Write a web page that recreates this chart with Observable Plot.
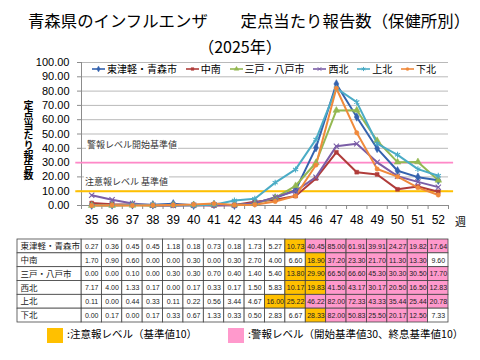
<!DOCTYPE html>
<html><head><meta charset="utf-8">
<script src="https://cdn.jsdelivr.net/npm/d3@7"></script>
<script src="https://cdn.jsdelivr.net/npm/@observablehq/plot@0.6"></script>
<style>
body{margin:0;background:#fff;font-family:"Noto Sans CJK JP",sans-serif;color:#000;}
#wrap{position:relative;width:480px;height:360px;overflow:hidden;background:#fff;}
.abs{position:absolute;}
.title{left:0;width:480px;text-align:center;font-size:16px;line-height:26px;white-space:pre;}
.ann{font-size:9px;color:#333;background:#fff;padding:2px 1px;line-height:12px;white-space:pre;}
.leg{display:flex;justify-content:space-between;align-items:center;font-size:10px;line-height:14px;}
.leg span{display:flex;align-items:center;white-space:pre;}
.foot{font-size:10.5px;line-height:16px;white-space:pre;}
</style></head><body><div id="wrap"></div>
<script>
// ---- data ----
const weeks = [35,36,37,38,39,40,41,42,43,44,45,46,47,48,49,50,51,52];
const series = ["東津軽・青森市","中南","三戸・八戸市","西北","上北","下北"];
const higashiTsugaru = [0.27,0.36,0.45,0.45,1.18,0.18,0.73,0.18,1.73,5.27,10.73,40.45,85.00,61.91,39.91,24.27,19.82,17.64];
const chunan        = [1.70,0.90,0.60,0.00,0.00,0.30,0.00,0.30,2.70,4.00,6.60,18.90,37.20,23.30,21.70,11.30,13.30,9.60];
const sannohe       = [0.00,0.00,0.10,0.00,0.30,0.30,0.70,0.40,1.40,5.40,13.80,29.90,66.50,66.60,45.30,30.30,30.50,17.70];
const seihoku       = [7.17,4.00,1.33,0.17,0.00,0.17,0.33,0.17,1.50,5.83,10.17,19.83,41.50,43.17,30.17,20.50,16.50,12.83];
const kamikita      = [0.11,0.00,0.44,0.33,0.11,0.22,0.56,3.44,4.67,16.00,25.22,46.22,82.00,72.33,43.33,35.44,25.44,20.78];
const shimokita     = [0.00,0.17,0.00,0.17,0.33,0.67,1.33,0.33,0.50,2.83,6.67,28.33,82.00,50.83,25.50,20.17,12.50,7.33];
const valuesList = [higashiTsugaru, chunan, sannohe, seihoku, kamikita, shimokita];
const yTicks = [0,10,20,30,40,50,60,70,80,90,100];
const attentionLevel = 10, alarmStart = 30, alarmEnd = 10;

// ---- styles ----
const colors  = ["#3462AE","#B03C3A","#94B852","#7B5EA7","#4BACC6","#F08A3C"];
const symbols = ["diamond","square","triangle","times","asterisk","circle"];
const filled  = [true,true,true,false,false,true];
const radius  = [2.6,2.2,2.5,2.5,2.8,2.2];
const cATT = "#FFC000", cALM = "#FF99CC";

const rows = series.flatMap((s,i)=>weeks.map((w,j)=>({series:s, row:i, week:w, value:valuesList[i][j]})));
// warning level classification
series.forEach((s,i)=>{
  let alarm=false;
  rows.filter(r=>r.row===i).forEach(r=>{
    if(!alarm && r.value>=alarmStart) alarm=true;
    else if(alarm && r.value<alarmEnd) alarm=false;
    r.level = alarm ? "alarm" : (r.value>=attentionLevel ? "attention" : "none");
  });
});

const wrap = document.getElementById("wrap");
function add(html, cls, css){const d=document.createElement("div");d.className="abs "+(cls||"");d.innerHTML=html;Object.assign(d.style,css||{});wrap.appendChild(d);return d;}

add("青森県のインフルエンザ　　定点当たり報告数（保健所別）","title",{top:"7px",left:"9px",fontSize:"16.4px"});
add("（2025年）","title",{top:"33px"});

// ---- chart ----
const marksLS = [];
series.forEach((s,i)=>{
  const d = rows.filter(r=>r.row===i);
  marksLS.push(Plot.line(d,{x:"week",y:"value",stroke:colors[i],strokeWidth:2}));
});
series.forEach((s,i)=>{
  const d = rows.filter(r=>r.row===i);
  marksLS.push(Plot.dot(d,{x:"week",y:"value",symbol:()=>symbols[i],r:radius[i],
    fill: filled[i]?colors[i]:"none", stroke:colors[i], strokeWidth: filled[i]?0.5:1.1}));
});

const chart = Plot.plot({
  width:480, height:180, marginTop:8, marginBottom:29, marginLeft:81, marginRight:32,
  style:{fontFamily:"Liberation Sans, Noto Sans CJK JP, sans-serif", fontSize:"11px", color:"#000", background:"transparent", overflow:"visible"},
  x:{domain:[34.5,52.5], axis:null},
  y:{domain:[0,100], axis:null},
  symbol:{type:"identity"},
  marks:[
    Plot.ruleY(yTicks.filter(t=>t>0),{stroke:"#b9b9b9",strokeWidth:1}),
    Plot.axisY({ticks:yTicks, tickFormat:d=>d.toFixed(2), tickSize:4, tickPadding:8, stroke:"#8c8c8c", fill:"#000", label:null}),
    Plot.axisX({ticks:d3.range(34.5,52.6,1), tickSize:4, tickFormat:()=>"", stroke:"#8c8c8c", label:null}),
    Plot.axisX({ticks:weeks, tickSize:0, tickPadding:10, fill:"#000", label:null, fontSize:12}),
    Plot.ruleY([0],{stroke:"#8c8c8c"}),
    Plot.ruleX([34.5],{stroke:"#8c8c8c"}),
    Plot.ruleY([alarmStart],{x1:34.22,x2:52.75,stroke:"#FF88C8",strokeWidth:1.8}),
    Plot.ruleY([attentionLevel],{x1:34.22,x2:52.75,stroke:cATT,strokeWidth:2}),
    ...marksLS
  ]
});
chart.style.position="absolute"; chart.style.left="0px"; chart.style.top="54px";
wrap.appendChild(chart);

add("週","",{left:"455px",top:"213px",fontSize:"11px",lineHeight:"16px"});
add("警報レベル開始基準値","ann",{left:"86px",top:"137px"});
add("注意報レベル 基準値","ann",{left:"84px",top:"174px"});

// y-axis title
add("定点当たり報告数","",{left:"22px",top:"100px",writingMode:"vertical-rl",textOrientation:"upright",fontSize:"10px",fontWeight:"bold",lineHeight:"12px"});

// legend
function symPath(name, r){
  const m={diamond:d3.symbolDiamond,square:d3.symbolSquare,triangle:d3.symbolTriangle,times:d3.symbolTimes,asterisk:d3.symbolAsterisk,circle:d3.symbolCircle};
  return d3.symbol(m[name], Math.PI*r*r)();
}
const leg = add("","leg",{left:"92px",top:"62px",width:"344px",height:"14px"});
series.forEach((s,i)=>{
  const sp=document.createElement("span");
  sp.innerHTML = `<svg width="13" height="10" style="margin-right:2px"><line x1="0" x2="13" y1="5" y2="5" stroke="${colors[i]}" stroke-width="1.6"/><path transform="translate(6.5,5)" d="${symPath(symbols[i],radius[i]*0.7)}" fill="${filled[i]?colors[i]:"none"}" stroke="${colors[i]}" stroke-width="${filled[i]?0.4:1}"/></svg>${s}`;
  leg.appendChild(sp);
});

// ---- table ----
const labelX0 = 34.5 - (81-17)/((448-81)/18);
const table = Plot.plot({
  width:480, height:90, marginTop:3, marginBottom:4, marginLeft:81, marginRight:32,
  style:{fontFamily:"Liberation Sans, Noto Sans CJK JP, sans-serif", background:"transparent", overflow:"visible"},
  x:{domain:[34.5,52.5], axis:null},
  y:{domain:[0,6], reverse:true, axis:null},
  marks:[
    Plot.rect(rows,{x1:d=>d.week-0.5, x2:d=>d.week+0.5, y1:"row", y2:d=>d.row+1,
      fill:d=>d.level==="alarm"?cALM:d.level==="attention"?cATT:"#fff", stroke:"#444", strokeWidth:0.8}),
    Plot.rect(series,{x1:labelX0, x2:34.5, y1:(d,i)=>i, y2:(d,i)=>i+1, fill:"#fff", stroke:"#444", strokeWidth:0.8}),
    Plot.text(rows,{x:"week", y:d=>d.row+0.5, text:d=>d.value.toFixed(2), fontSize:7, fill:"#222"}),
    Plot.text(series,{x:labelX0, dx:3, y:(d,i)=>i+0.5, text:d=>d, textAnchor:"start", fontSize:8.5, fontFamily:"Noto Sans CJK JP", fill:"#222"})
  ]
});
table.style.position="absolute"; table.style.left="0px"; table.style.top="236px";
wrap.appendChild(table);

// footer legend
add(`<span style="display:inline-block;width:16px;height:15px;background:${cATT};vertical-align:middle;margin-right:4px"></span>:注意報レベル（基準値10）`,"foot",{left:"47px",top:"326px"});
add(`<span style="display:inline-block;width:16px;height:15px;background:${cALM};vertical-align:middle;margin-right:4px"></span>:警報レベル（開始基準値30、終息基準値10）`,"foot",{left:"228px",top:"326px"});
</script></body></html>
